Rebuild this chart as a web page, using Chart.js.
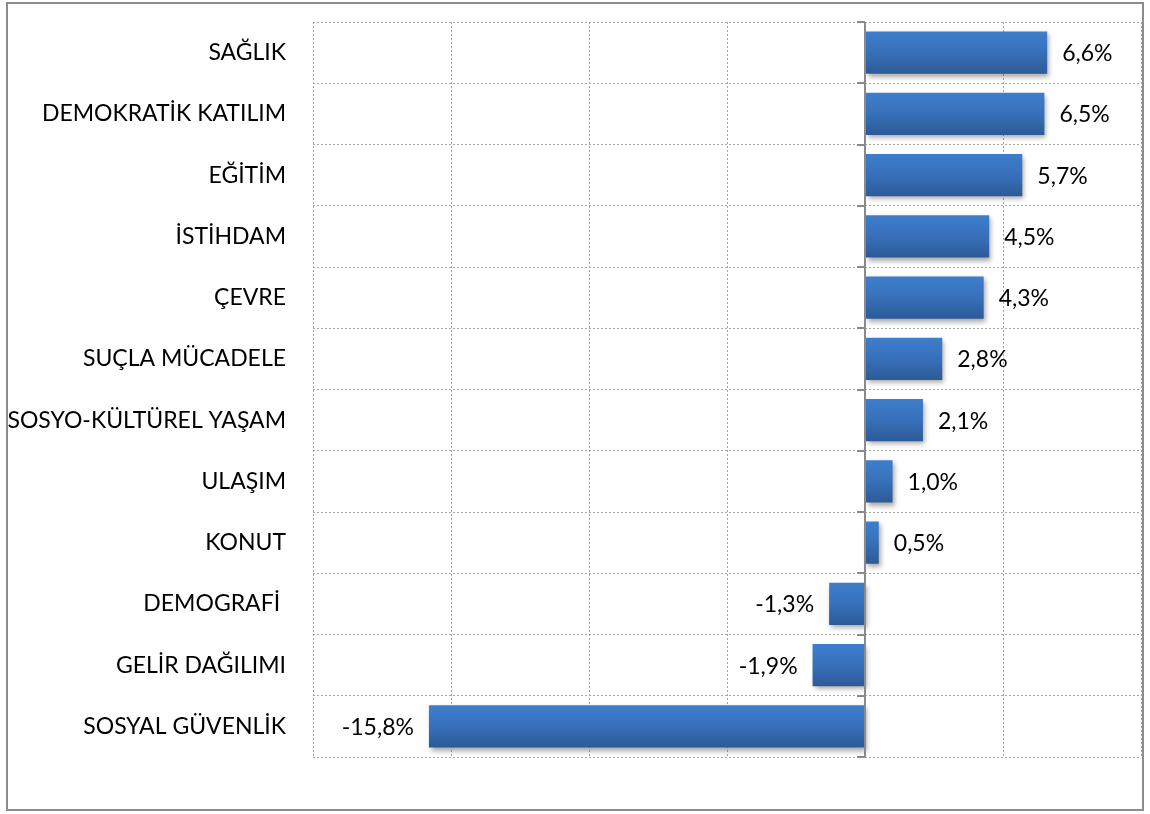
<!DOCTYPE html>
<html>
<head>
<meta charset="utf-8">
<script src="https://cdn.jsdelivr.net/npm/chart.js@4"></script>
<style>
  html, body { margin: 0; padding: 0; background: #fff; }
  #frame {
    position: absolute; left: 6px; top: 2px;
    width: 1134px; height: 805px;
    border: 2px solid #8c8c8c;
  }
  #chart { display: block; }
</style>
</head>
<body>
<div id="frame"><canvas id="chart" width="1134" height="805"></canvas></div>
<script>
// kategoriler ve yüzde değişimler
const categories = [
  'SAĞLIK', 'DEMOKRATİK KATILIM', 'EĞİTİM', 'İSTİHDAM', 'ÇEVRE',
  'SUÇLA MÜCADELE', 'SOSYO-KÜLTÜREL YAŞAM', 'ULAŞIM', 'KONUT',
  'DEMOGRAFİ ', 'GELİR DAĞILIMI', 'SOSYAL GÜVENLİK'
];
const changes = [6.6, 6.5, 5.7, 4.5, 4.3, 2.8, 2.1, 1.0, 0.5, -1.3, -1.9, -15.8];
const xMin = -20;
const xMax = 10;
const xStep = 5;

const FONT = 'Lato, "Open Sans", sans-serif';
const barPct = 0.69;

function fmt(v) {
  return v.toFixed(1).replace('.', ',') + '%';
}

// her çubuk için yukarıdan aşağı mavi geçiş
function barGradient(c) {
  const chart = c.chart;
  const y = chart.scales.y;
  const area = chart.chartArea;
  if (!y || !area) return '#3569b0';
  const yc = y.getPixelForValue(c.dataIndex);
  const h = (area.height / categories.length) * barPct;
  const g = chart.ctx.createLinearGradient(0, yc - h / 2, 0, yc + h / 2);
  g.addColorStop(0, '#3e7ecc');
  g.addColorStop(0.5, '#3770ba');
  g.addColorStop(1, '#2c5a96');
  return g;
}

// çubuk gölgesi
const shadowPlugin = {
  id: 'barShadow',
  beforeDatasetsDraw(chart) {
    const ctx = chart.ctx;
    ctx.save();
    ctx.shadowColor = 'rgba(0,0,0,0.35)';
    ctx.shadowBlur = 5;
    ctx.shadowOffsetX = 2;
    ctx.shadowOffsetY = 3;
  },
  afterDatasetsDraw(chart) {
    chart.ctx.restore();
  }
};

// sıfır ekseni ve kategori sınırlarındaki çentikler
const zeroAxisPlugin = {
  id: 'zeroAxis',
  afterDatasetsDraw(chart) {
    const ctx = chart.ctx;
    const x0 = chart.scales.x.getPixelForValue(0);
    const area = chart.chartArea;
    const step = area.height / categories.length;
    ctx.save();
    ctx.strokeStyle = '#8a8a8a';
    ctx.lineWidth = 2;
    ctx.beginPath();
    ctx.moveTo(x0, area.top);
    ctx.lineTo(x0, area.bottom);
    for (let i = 0; i <= categories.length; i++) {
      const yy = Math.round(area.top + i * step);
      ctx.moveTo(x0 - 8, yy);
      ctx.lineTo(x0, yy);
    }
    ctx.stroke();
    ctx.restore();
  }
};

// değer etiketleri
const valueLabelPlugin = {
  id: 'valueLabels',
  afterDatasetsDraw(chart) {
    const ctx = chart.ctx;
    const meta = chart.getDatasetMeta(0);
    ctx.save();
    ctx.font = '23px ' + FONT;
    ctx.fillStyle = '#000';
    ctx.textBaseline = 'middle';
    meta.data.forEach((bar, i) => {
      const v = changes[i];
      if (v >= 0) {
        ctx.textAlign = 'left';
        ctx.fillText(fmt(v), bar.x + 15, bar.y + 1);
      } else {
        ctx.textAlign = 'right';
        ctx.fillText(fmt(v), bar.x - 15, bar.y + 1);
      }
    });
    ctx.restore();
  }
};

new Chart(document.getElementById('chart'), {
  type: 'bar',
  data: {
    labels: categories,
    datasets: [{
      data: changes,
      backgroundColor: barGradient,
      borderWidth: 0,
      categoryPercentage: 1,
      barPercentage: barPct
    }]
  },
  options: {
    indexAxis: 'y',
    responsive: false,
    animation: false,
    events: [],
    layout: { padding: { top: 18, right: 1, bottom: 52, left: 0 } },
    plugins: {
      legend: { display: false },
      tooltip: { enabled: false }
    },
    scales: {
      x: {
        min: xMin,
        max: xMax,
        ticks: { display: false, stepSize: xStep },
        grid: {
          color: (c) => c.tick && c.tick.value === 0 ? 'rgba(0,0,0,0)' : '#a6a6a6',
          lineWidth: 1,
          drawTicks: false
        },
        border: { display: false, dash: [2, 2] }
      },
      y: {
        afterFit(scale) {
          scale.width = 305;
          scale.paddingTop = 0;
          scale.paddingBottom = 0;
        },
        ticks: {
          color: '#000',
          padding: 27,
          font: { family: FONT, size: 23 }
        },
        grid: {
          color: '#a6a6a6',
          lineWidth: 1,
          drawTicks: false,
          offset: true
        },
        border: { display: false, dash: [2, 2] }
      }
    }
  },
  plugins: [shadowPlugin, zeroAxisPlugin, valueLabelPlugin]
});
</script>
</body>
</html>
